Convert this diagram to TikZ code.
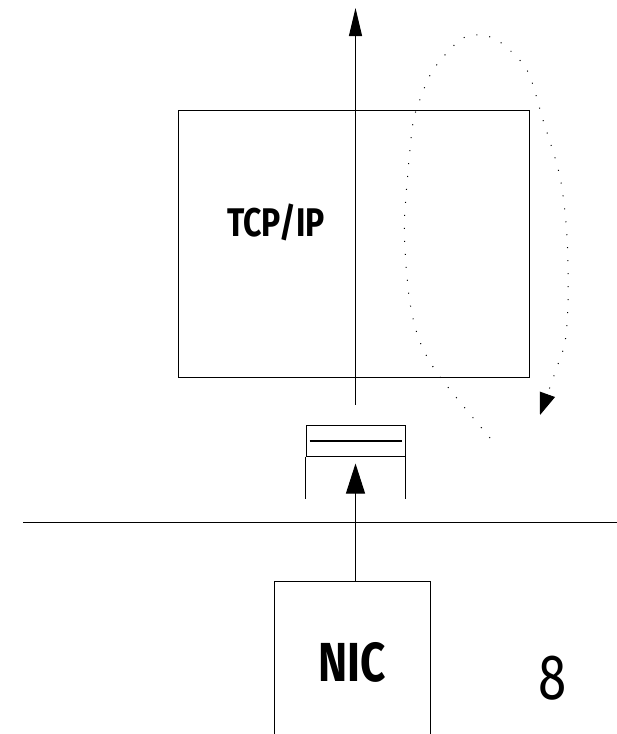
\documentclass[tikz,border=0pt]{standalone}
\usepackage{fontspec}
\setsansfont{Fira Sans}
\newfontfamily\narrowsf[FakeStretch=0.8]{Fira Sans}
\usetikzlibrary{arrows.meta,positioning}

\tikzset{
  box/.style={rectangle, draw, inner sep=0pt},
  flow/.style={-{Triangle[length=28pt,width=13pt]}},
  loopback/.style={dash pattern=on 1pt off 12pt, -{Triangle[length=22pt,width=16pt]}},
}

\begin{document}
\begin{tikzpicture}[x=1pt, y=-1pt, line width=1pt, every node/.style={inner sep=0pt}]
\useasboundingbox (0,0) rectangle (617,734);

% protocol stack
\node (tcpip) [box, minimum width=351pt, minimum height=267pt] at (353.5,243.5) {};
\node (tcplabel) at (276,222) {\narrowsf\bfseries\fontsize{40}{40}\selectfont TCP/IP};

% receive buffer
\node (buffer) [box, minimum width=99pt, minimum height=31pt] at (355.5,440.5) {};
\draw (buffer.south west) -- ++(0,42);
\draw (buffer.south east) -- ++(0,42);
\draw [line width=2pt] ([xshift=4pt]buffer.west) -- ([xshift=-4pt]buffer.east);

% network card
\node (nic) [minimum width=155pt, minimum height=160pt] at (352.5,662) {\narrowsf\bfseries\fontsize{55}{55}\selectfont NIC};
\draw (nic.south west) |- (nic.north east) -- (nic.south east);

% wire
\coordinate (wireL) at (23,522);
\coordinate (wireR) at (617,522);
\draw (wireL) -- (wireR);

% data path
\coordinate (top) at (355.5,8);
\draw [flow] ([yshift=20pt]buffer.north) -- (top);
\draw [-{Triangle[length=30pt,width=19pt]}] (nic.north -| buffer.south) -- ([yshift=-7pt]buffer.south);

% loop round the stack
\draw [loopback] plot [smooth] coordinates {(490,438) (440,377) (420,342) (410,303) (405,250) (405,210) (412,130) (418,105) (433,70) (460,40) (480,35) (500,42) (527,70) (543,120) (560,177) (567,237) (568,303) (565,342) (557,367) (540,415)};

\node (pagenum) at (553,678) {\narrowsf\fontsize{64}{64}\selectfont 8};
\end{tikzpicture}
\end{document}
